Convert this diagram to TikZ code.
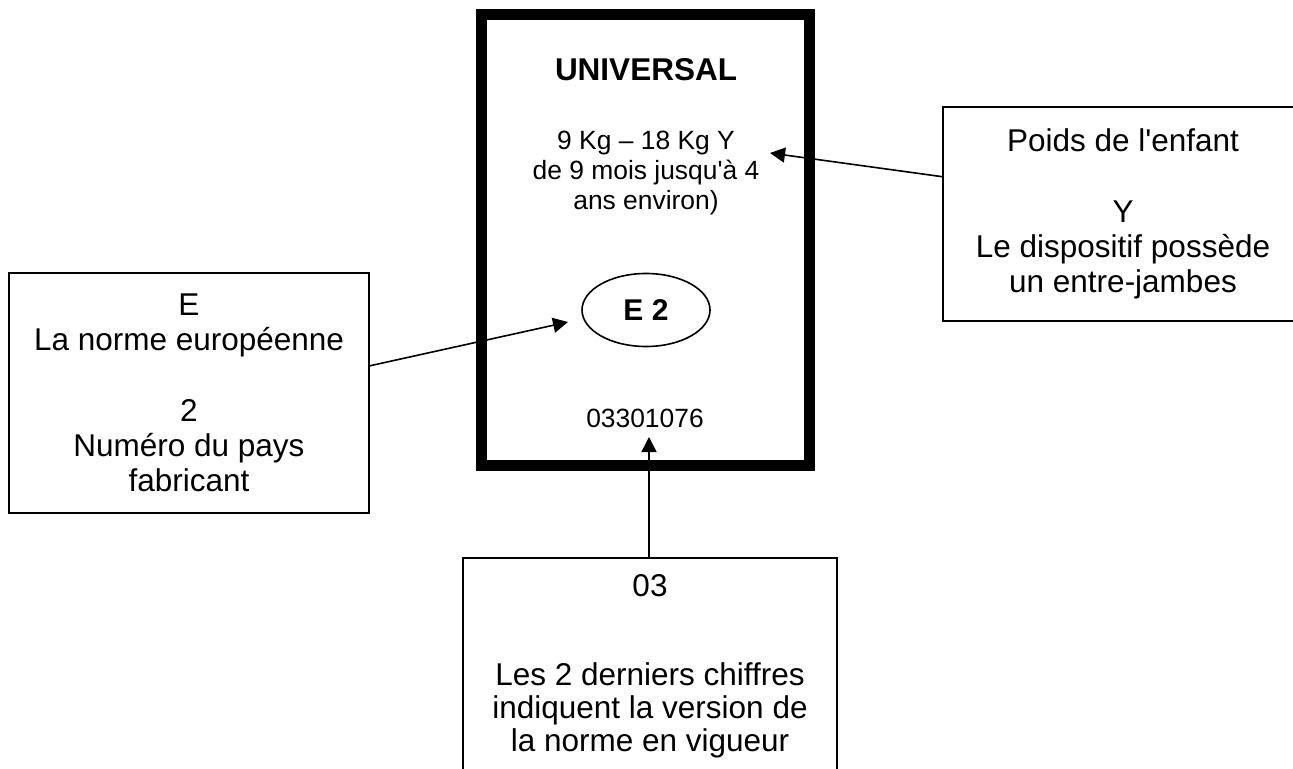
\documentclass[tikz,border=0pt]{standalone}
\usepackage{fontspec}
\setmainfont{Liberation Sans}[Ligatures=TeXOff]
\usetikzlibrary{arrows.meta,positioning,calc,shapes.geometric}
\definecolor{ink}{HTML}{000000}
\tikzset{
  notebox/.style={draw=ink,line width=0.8pt,fill=white,align=center,inner sep=0pt,font=\fontsize{15.75}{17.6}\selectfont,text=ink},
  labelbox/.style={draw=ink,line width=5.5pt,inner sep=0pt},
  labeltext/.style={align=center,inner sep=0pt,font=\fontsize{13.2}{15}\selectfont,text=ink},
  seal/.style={draw=ink,ellipse,line width=0.8pt,inner sep=0pt,minimum width=64pt,minimum height=36.5pt,font=\fontsize{15}{17}\selectfont\bfseries,text=ink},
  flow/.style={-{Triangle[length=7.5pt,width=7.5pt]},line width=0.8pt,draw=ink}
}

\begin{document}
\begin{tikzpicture}[x=0.5pt,y=-0.5pt]
    \useasboundingbox (0,0) rectangle (1293,769);
    \clip (0,0) rectangle (1293,769);
    \node[labelbox,minimum width=164pt,minimum height=225.5pt] (label) at (645.5,240) {};
    \node[labeltext,font=\fontsize{15.75}{17}\selectfont\bfseries,anchor=base] (title) at (646,81) {UNIVERSAL};
    \node[labeltext] (weight) at (646,173) {9 Kg – 18 Kg Y\\de 9 mois jusqu'à 4\\ans environ)};
    \node[seal] (e2) at (646,310) {E 2};
    \node[labeltext] (num) at (645,418) {03301076};

    \node[notebox,minimum width=180pt,minimum height=120pt] (left) at (189,393) {E\\La norme européenne\\[17.7pt]2\\Numéro du pays\\fabricant};
    \node[notebox,minimum width=180pt,minimum height=107pt] (right) at (1123,214) {Poids de l'enfant\\[17.5pt]Y\\Le dispositif possède\\un entre-jambes};
    \node[notebox,font=\fontsize{15.75}{16.5}\selectfont,minimum width=187pt,minimum height=108pt] (bottom) at (650,666) {03\\[28pt]Les 2 derniers chiffres\\indiquent la version de\\la norme en vigueur};

    \coordinate (ytip) at (770,153);
    \coordinate (etip) at (568,322);
    \coordinate (numtip) at (649,437);
    \draw[flow] ($(right.north west)!0.327!(right.south west)$) -- (ytip);
    \draw[flow] ($(left.north east)!0.3875!(left.south east)$) -- (etip);
    \draw[flow] (bottom.north -| numtip) -- (numtip);
  \end{tikzpicture}
\end{document}
